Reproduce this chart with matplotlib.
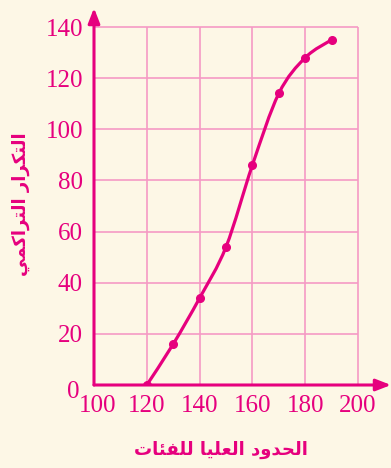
#!/usr/bin/env python3
"""Cumulative frequency curve (ogive) with Arabic axis titles."""

import matplotlib
matplotlib.use("Agg")
import matplotlib.pyplot as plt
import numpy as np
from matplotlib.path import Path
from matplotlib.patches import PathPatch
from matplotlib.transforms import ScaledTranslation

# Data
upper_bounds = [120, 130, 140, 150, 160, 170, 180, 190]
cum_freq = [0, 16, 34, 54, 86, 114, 128, 135]

x_ticks = [100, 120, 140, 160, 180, 200]
y_ticks = [0, 20, 40, 60, 80, 100, 120, 140]

# Arabic titles written in presentation forms, visual (left-to-right) order,
# since matplotlib does no Arabic shaping
x_title_logical = "\uFE8D\uFEDF\uFEA4\uFEAA\uFEED\uFEA9 \uFE8D\uFEDF\uFECC\uFEE0\uFEF4\uFE8E \uFEDF\uFEE0\uFED4\uFE8C\uFE8E\uFE95"
y_title_logical = "\uFE8D\uFEDF\uFE98\uFEDC\uFEAE\uFE8D\uFEAD \uFE8D\uFEDF\uFE98\uFEAE\uFE8D\uFEDB\uFEE4\uFEF2"
x_title = x_title_logical[::-1]
y_title = y_title_logical[::-1]

BG = "#fdf7e6"
MAGENTA = "#e6007e"
GRID = "#f59ac5"

W, H = 391, 468
fig = plt.figure(figsize=(W / 100, H / 100), dpi=100, facecolor=BG)

# axes spans the drawn area including arrow heads
x0_px, x1_px = 94, 391
y0_px, y1_px = 385, 8
ax = fig.add_axes([x0_px / W, (H - y0_px) / H, (x1_px - x0_px) / W, (y0_px - y1_px) / H])
ax.set_facecolor(BG)
px_per_x = (358 - 94) / 100.0
px_per_y = (385 - 27) / 140.0
xmax = 100 + (x1_px - x0_px) / px_per_x
ymax = (y0_px - y1_px) / px_per_y
ax.set_xlim(100, xmax)
ax.set_ylim(0, ymax)
for s in ax.spines.values():
    s.set_visible(False)

# grid, limited to the 100..200 x 0..140 box
ax.vlines(x_ticks[1:], 0, y_ticks[-1], color=GRID, lw=1.2, zorder=1)
ax.hlines(y_ticks[1:], x_ticks[0], x_ticks[-1], color=GRID, lw=1.2, zorder=1)

# axes with arrow heads
arrow = dict(arrowstyle="-|>,head_length=0.9,head_width=0.35", color=MAGENTA,
             lw=2.2, shrinkA=0, shrinkB=0)
ax.annotate("", xy=(xmax, 0), xytext=(100, 0), arrowprops=arrow,
            annotation_clip=False, zorder=3)
ax.annotate("", xy=(100, ymax), xytext=(100, 0), arrowprops=arrow,
            annotation_clip=False, zorder=3)

# smooth curve: Catmull-Rom through the points, as cubic Bezier segments
xs = np.array(upper_bounds, dtype=float)
ys = np.array(cum_freq, dtype=float)
verts = [(xs[0], ys[0])]
codes = [Path.MOVETO]
n = len(xs)
for i in range(n - 1):
    p0 = np.array([xs[max(i - 1, 0)], ys[max(i - 1, 0)]])
    p1 = np.array([xs[i], ys[i]])
    p2 = np.array([xs[i + 1], ys[i + 1]])
    p3 = np.array([xs[min(i + 2, n - 1)], ys[min(i + 2, n - 1)]])
    c1 = p1 + (p2 - p0) / 6.0
    c2 = p2 - (p3 - p1) / 6.0
    verts += [tuple(c1), tuple(c2), tuple(p2)]
    codes += [Path.CURVE4] * 3
ax.add_patch(PathPatch(Path(verts, codes), fill=False, edgecolor=MAGENTA,
                       lw=2.3, capstyle="round", zorder=4))
ax.plot(upper_bounds, cum_freq, "o", color=MAGENTA, ms=5.5, zorder=5)

# ticks
ax.set_xticks(x_ticks, labels=[str(v) for v in x_ticks])
ax.set_yticks(y_ticks, labels=[str(v) for v in y_ticks])
ax.tick_params(length=0, colors=MAGENTA, labelsize=18)
ax.tick_params(axis="x", pad=7)
ax.tick_params(axis="y", pad=8)
for lab in ax.get_xticklabels() + ax.get_yticklabels():
    lab.set_fontfamily("Liberation Serif")

# the corner labels "100" and "0" sit slightly off their ticks
lab100 = ax.xaxis.get_major_ticks()[0].label1
lab100.set_transform(lab100.get_transform()
                     + ScaledTranslation(4 / 100, 0, fig.dpi_scale_trans))
lab0 = ax.yaxis.get_major_ticks()[0].label1
lab0.set_transform(lab0.get_transform()
                   + ScaledTranslation(-3 / 100, -5 / 100, fig.dpi_scale_trans))

# Arabic axis titles
fig.text(221 / W, 1 - 450 / H, x_title, color=MAGENTA, fontsize=13,
         fontweight="bold", family="DejaVu Sans", ha="center", va="center")
fig.text(21 / W, 1 - 204 / H, y_title, color=MAGENTA, fontsize=13,
         fontweight="bold", family="DejaVu Sans", ha="center", va="center",
         rotation=90)

fig.savefig("out.png", dpi=100, facecolor=BG)
